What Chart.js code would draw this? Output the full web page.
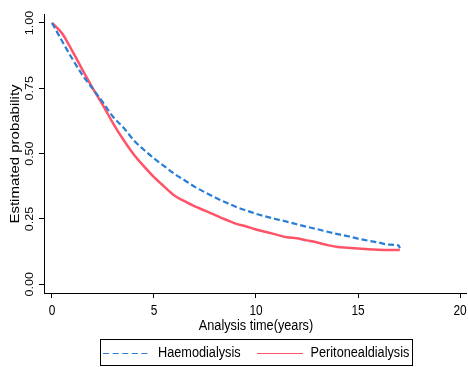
<!DOCTYPE html>
<html>
<head>
<meta charset="utf-8">
<script src="https://cdn.jsdelivr.net/npm/chart.js@4.4.1/dist/chart.umd.min.js"></script>
<style>
  html, body { margin: 0; padding: 0; background: #fff; }
  #wrap { width: 468px; height: 367px; }
</style>
</head>
<body>
<div id="wrap"><canvas id="survChart" width="468" height="367"></canvas></div>
<script>
// Kaplan-Meier style survival estimates by dialysis modality
const years = [0, 0.5, 1, 1.5, 2, 2.5, 3, 3.5, 4, 4.5, 5, 5.5, 6, 6.5, 7, 7.5, 8, 8.5,
               9, 9.5, 10, 10.5, 11, 11.5, 12, 12.5, 13, 13.5, 14, 14.5, 15, 15.5, 16, 16.5, 17, 17.05];
const haemo = [1.0, 0.93, 0.862, 0.80, 0.748, 0.696, 0.64, 0.60, 0.552, 0.515, 0.482, 0.452,
               0.423, 0.398, 0.373, 0.352, 0.332, 0.314, 0.297, 0.283, 0.27, 0.259, 0.249,
               0.24, 0.23, 0.22, 0.211, 0.201, 0.192, 0.184, 0.175, 0.167, 0.16, 0.152, 0.148, 0.138];
const perit = [1.0, 0.96, 0.892, 0.82, 0.75, 0.685, 0.615, 0.553, 0.498, 0.452, 0.41, 0.374,
               0.34, 0.318, 0.298, 0.282, 0.265, 0.248, 0.232, 0.222, 0.21, 0.2, 0.19, 0.18,
               0.176, 0.168, 0.16, 0.15, 0.143, 0.14, 0.137, 0.134, 0.132, 0.131, 0.131, 0.131];
const seriesNames = ['Haemodialysis', 'Peritonealdialysis'];
const xTicks = [0, 5, 10, 15, 20];
const xTickLabels = ['0', '5', '10', '15', '20'];
const yTicks = [0, 0.25, 0.5, 0.75, 1];
const yTickLabels = ['0.00', '0.25', '0.50', '0.75', '1.00'];

const BLUE = '#2a7ed6';
const RED = '#ff5468';
const SANS = "'Liberation Sans', Arial, sans-serif";
const SQUEEZE = 0.82; // condensed text, as Stata exports it

function toPoints(ys) {
    return years.map((t, i) => ({ x: t, y: ys[i] }));
}

// horizontal text, squeezed sideways
function narrowText(ctx, text, x, y, size, align) {
    ctx.save();
    ctx.translate(x, y);
    ctx.scale(SQUEEZE, 1);
    ctx.font = size + 'px ' + SANS;
    ctx.textAlign = align;
    ctx.textBaseline = 'middle';
    ctx.fillText(text, 0, 0);
    ctx.restore();
}

// vertical text reading bottom to top
function upText(ctx, text, x, y, size) {
    ctx.save();
    ctx.translate(x, y);
    ctx.scale(SQUEEZE, 1);
    ctx.rotate(-Math.PI / 2);
    ctx.font = size + 'px ' + SANS;
    ctx.textAlign = 'center';
    ctx.textBaseline = 'middle';
    ctx.fillText(text, 0, 0);
    ctx.restore();
}

// axis labels, titles and the boxed legend are drawn by hand
const stataExtras = {
    id: 'stataExtras',
    afterDraw(chart) {
        const ctx = chart.ctx;
        const xScale = chart.scales.x;
        const yScale = chart.scales.y;
        ctx.save();
        ctx.fillStyle = '#000';

        yTicks.forEach((v, i) => upText(ctx, yTickLabels[i], 30, yScale.getPixelForValue(v), 12.5));
        upText(ctx, 'Estimated probability', 16, 154, 15);

        xTicks.forEach((v, i) => narrowText(ctx, xTickLabels[i], xScale.getPixelForValue(v), 311, 14.5, 'center'));
        narrowText(ctx, 'Analysis time(years)', 256, 326, 15.5, 'center');

        // legend box
        ctx.strokeStyle = '#000';
        ctx.lineWidth = 1;
        ctx.strokeRect(100.5, 339.5, 312, 26);

        ctx.strokeStyle = BLUE;
        ctx.setLineDash([6, 3.6]);
        ctx.beginPath();
        ctx.moveTo(103, 353.5);
        ctx.lineTo(151, 353.5);
        ctx.stroke();

        ctx.setLineDash([]);
        ctx.strokeStyle = RED;
        ctx.beginPath();
        ctx.moveTo(257, 353.5);
        ctx.lineTo(303, 353.5);
        ctx.stroke();

        narrowText(ctx, seriesNames[0], 158, 353, 15.5, 'left');
        narrowText(ctx, seriesNames[1], 310.5, 353, 15.5, 'left');
        ctx.restore();
    }
};

const ctx = document.getElementById('survChart').getContext('2d');
const survChart = new Chart(ctx, {
    type: 'line',
    data: {
        datasets: [{
            label: seriesNames[0],
            data: toPoints(haemo),
            borderColor: BLUE,
            borderWidth: 2.2,
            borderDash: [6, 3],
            pointRadius: 0,
            cubicInterpolationMode: 'monotone',
            fill: false
        }, {
            label: seriesNames[1],
            data: toPoints(perit),
            borderColor: RED,
            borderWidth: 2.5,
            pointRadius: 0,
            cubicInterpolationMode: 'monotone',
            fill: false
        }]
    },
    options: {
        responsive: false,
        animation: false,
        devicePixelRatio: 1,
        layout: { padding: { top: 14, right: 2, left: 0, bottom: 0 } },
        plugins: {
            legend: { display: false },
            tooltip: { enabled: false }
        },
        scales: {
            x: {
                type: 'linear',
                min: -0.392,
                max: 20.294,
                afterBuildTicks: (scale) => { scale.ticks = xTicks.map(v => ({ value: v })); },
                afterFit: (scale) => { scale.height = 74; },
                grid: { drawOnChartArea: false, drawTicks: true, tickLength: 5, color: '#000' },
                border: { display: true, color: '#000', width: 1 },
                ticks: { display: false }
            },
            y: {
                type: 'linear',
                min: -0.0333,
                max: 1.0344,
                afterBuildTicks: (scale) => { scale.ticks = yTicks.map(v => ({ value: v })); },
                afterFit: (scale) => { scale.width = 44; },
                grid: { drawOnChartArea: false, drawTicks: true, tickLength: 5, color: '#000' },
                border: { display: true, color: '#000', width: 1 },
                ticks: { display: false }
            }
        }
    },
    plugins: [stataExtras]
});
</script>
</body>
</html>
